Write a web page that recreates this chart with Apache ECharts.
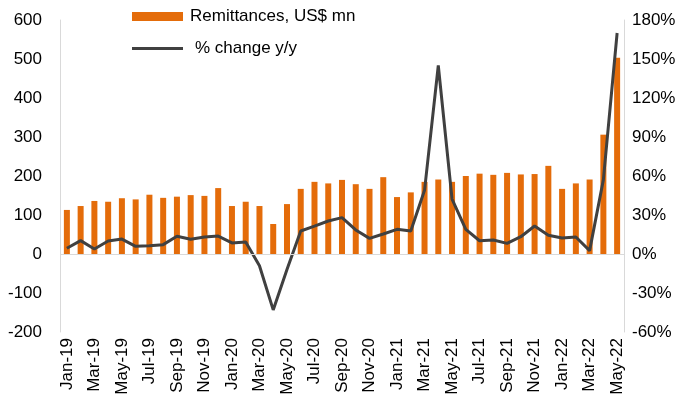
<!DOCTYPE html>
<html>
<head>
<meta charset="utf-8">
<script src="https://cdn.jsdelivr.net/npm/echarts@6/dist/echarts.min.js"></script>
<style>
  html, body { margin: 0; padding: 0; background: #fff; }
  #chart { width: 687px; height: 408px; }
</style>
</head>
<body>
<div id="chart"></div>
<script>
// months Jan-19 .. May-22
const months = [
  'Jan-19', 'Feb-19', 'Mar-19', 'Apr-19', 'May-19', 'Jun-19', 'Jul-19', 'Aug-19', 'Sep-19', 'Oct-19', 'Nov-19', 'Dec-19',
  'Jan-20', 'Feb-20', 'Mar-20', 'Apr-20', 'May-20', 'Jun-20', 'Jul-20', 'Aug-20', 'Sep-20', 'Oct-20', 'Nov-20', 'Dec-20',
  'Jan-21', 'Feb-21', 'Mar-21', 'Apr-21', 'May-21', 'Jun-21', 'Jul-21', 'Aug-21', 'Sep-21', 'Oct-21', 'Nov-21', 'Dec-21',
  'Jan-22', 'Feb-22', 'Mar-22', 'Apr-22', 'May-22'
]
const remittances = [
  113, 123, 136, 134, 143, 140, 152, 144, 147, 151, 149, 169,
  123, 134, 123, 77, 128, 167, 185, 181, 190, 179, 167, 197,
  146, 158, 185, 191, 185, 200, 206, 203, 208, 204, 205, 226,
  167, 181, 191, 306, 503
]
const changeYoY = [
  4.4, 10.3, 3.8, 10, 11.5, 5.9, 6.4, 7.2, 13.6, 11.3, 13.1, 13.8,
  8.5, 9.2, -9, -43, -12, 17.7, 21.5, 25.4, 28, 18.5, 12, 15.4,
  19, 17.7, 49, 145, 42.3, 19, 10.2, 10.8, 8.2, 13.3, 21.5, 14.4,
  12.3, 13.1, 2.6, 57, 170
]

const font = 'Liberation Sans, Arial, sans-serif'
const chart = echarts.init(document.getElementById('chart'))
chart.setOption({
  animation: false,
  textStyle: { fontFamily: font },
  legend: {
    orient: 'vertical',
    left: 132,
    top: 8,
    padding: 0,
    itemWidth: 51,
    itemHeight: 9,
    itemGap: 15,
    textStyle: { fontSize: 17, lineHeight: 17, color: '#000', fontFamily: font, padding: [0, 0, 0, 2] },
    data: [
      { name: 'Remittances, US$ mn', icon: 'rect' },
      {
        name: '% change y/y',
        icon: 'path://M0,0H52V3H0Z',
        itemStyle: { color: '#404040' },
        textStyle: { padding: [0, 0, 0, 7] }
      }
    ]
  },
  grid: { left: 60, right: 63, top: 20, bottom: 76 },
  xAxis: {
    type: 'category',
    data: months,
    axisLine: { show: false },
    axisTick: { show: false },
    axisLabel: {
      rotate: 90,
      interval: 1,
      margin: 6,
      fontSize: 17,
      color: '#000',
      fontFamily: font
    }
  },
  yAxis: [
    {
      type: 'value',
      min: -200,
      max: 600,
      interval: 100,
      axisLine: { show: true, lineStyle: { color: '#D9D9D9' } },
      axisTick: { show: false },
      splitLine: { show: false },
      axisLabel: { margin: 18, fontSize: 17, color: '#000', fontFamily: font }
    },
    {
      type: 'value',
      min: -60,
      max: 180,
      interval: 30,
      position: 'right',
      axisLine: { show: true, lineStyle: { color: '#D9D9D9' } },
      axisTick: { show: false },
      splitLine: { show: false },
      axisLabel: { margin: 8, fontSize: 17, color: '#000', fontFamily: font, formatter: '{value}%' }
    }
  ],
  series: [
    {
      name: 'Remittances, US$ mn',
      type: 'bar',
      data: remittances,
      barWidth: 6,
      itemStyle: { color: '#E46C0A' },
      markLine: {
        silent: true,
        symbol: 'none',
        label: { show: false },
        lineStyle: { color: '#D9D9D9', type: 'solid', width: 1 },
        data: [{ yAxis: 0 }]
      }
    },
    {
      name: '% change y/y',
      type: 'line',
      yAxisIndex: 1,
      data: changeYoY,
      symbol: 'none',
      lineStyle: { color: '#404040', width: 3 },
      itemStyle: { color: '#404040' }
    }
  ]
})
</script>
</body>
</html>
